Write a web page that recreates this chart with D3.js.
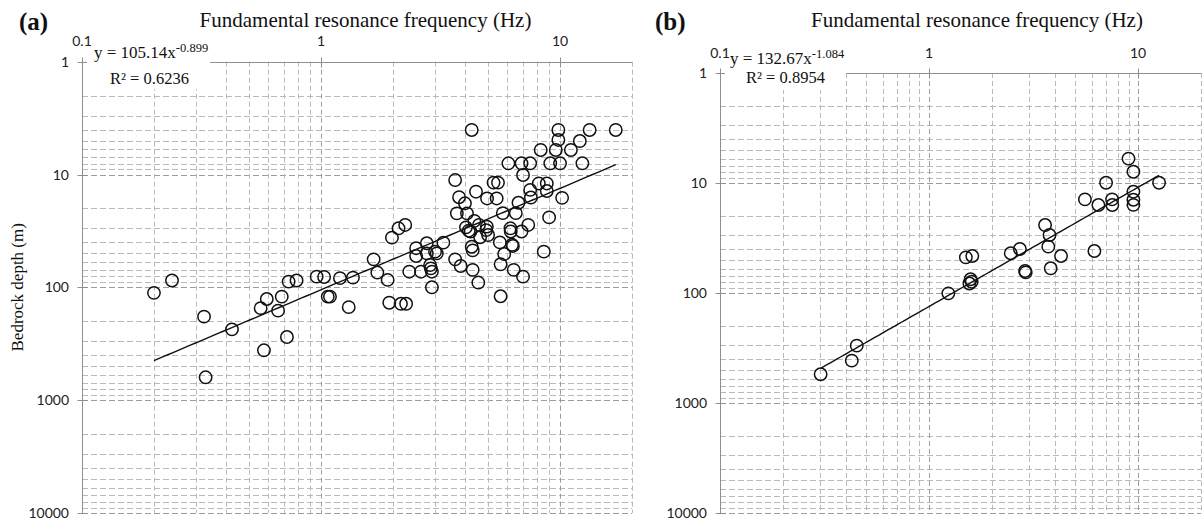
<!DOCTYPE html>
<html>
<head>
<meta charset="utf-8">
<script src="https://cdn.jsdelivr.net/npm/d3@7"></script>
<style>
  body { margin: 0; background: #fff; }
  svg { display: block; }
</style>
</head>
<body>
<svg id="chart" width="1204" height="523"></svg>
<script>
// Panel (a): all sites — fundamental resonance frequency (Hz) vs bedrock depth (m)
const freqA = [
  0.20, 0.238, 0.324, 0.329, 0.424, 0.577, 0.559, 0.593, 0.685, 0.661,
  0.72, 0.732, 0.79, 0.959, 1.03, 1.067, 1.09, 1.20, 1.36, 1.306,
  1.66, 1.72, 1.90, 1.93, 2.16, 2.27, 1.98, 2.11, 2.25, 2.34,
  2.62, 2.50, 2.50, 2.77, 2.77, 3.00, 3.05, 3.25, 2.86, 2.88,
  2.91, 2.91, 3.64, 3.78, 4.00, 4.45, 3.70, 4.08, 4.38, 4.04,
  4.15, 4.22, 4.58, 4.94, 4.91, 5.00, 4.63, 3.64, 3.84, 4.27,
  4.31, 4.31, 4.55, 4.27, 9.84, 13.3, 17.1, 9.84, 12.1, 8.3,
  9.6, 11.1, 6.08, 6.9, 7.5, 9.1, 10.0, 12.4, 7.0, 5.27,
  5.5, 8.15, 8.8, 8.8, 7.5, 7.55, 10.2, 4.95, 5.43, 6.7,
  5.76, 6.53, 9.0, 7.36, 6.2, 6.22, 6.9, 5.6, 6.3, 6.35,
  5.84, 5.64, 6.4, 7.0, 8.55, 5.64
];
const depthA = [
  112, 87, 182, 628, 236, 362, 153, 127, 121, 161,
  276, 89, 87, 80.5, 81, 121, 121, 83, 82, 150,
  56.5, 74, 86, 137, 140, 140, 36.3, 30, 28, 72.7,
  72.7, 45, 52.8, 40.7, 50, 48.3, 50, 40.2, 63.5, 67.9,
  72.7, 100, 11.2, 15.9, 18, 14.2, 22.1, 22.1, 25.8, 29.4,
  31.5, 32.1, 28, 29, 31.1, 34.4, 36, 56.5, 64.7, 43.7,
  47.1, 70, 90.8, 4.03, 4.03, 4.03, 4.03, 4.94, 5.05, 6.06,
  6.06, 6.06, 7.96, 7.96, 7.96, 7.96, 7.96, 7.96, 10.1, 11.8,
  11.8, 12, 12, 14, 13.7, 16, 16.1, 16.3, 16.3, 17.8,
  22, 22, 24, 28, 30, 32, 32, 40, 42, 43,
  50.7, 62.5, 70, 80.5, 48.3, 120
];

// Panel (b): subset of sites
const freqB = [
  0.303, 0.427, 0.451, 1.237, 1.56, 1.58, 1.60, 1.50, 1.61, 2.46,
  2.72, 2.88, 2.90, 3.59, 3.77, 3.72, 4.28, 3.82, 5.57, 6.46,
  7.03, 7.51, 7.53, 6.18, 9.0, 9.5, 9.5, 9.5, 9.5, 12.6
];
const depthB = [
  548, 412, 301, 100.7, 82, 75, 79, 47.4, 46.1, 43.5,
  39.8, 63, 65, 24.1, 29.7, 37.9, 46.1, 59.6, 14.1, 15.85,
  9.94, 14.1, 15.85, 41.5, 6.0, 7.9, 12.0, 14.2, 15.8, 9.94
];

// Power-law trendlines y = c * x^k
const fitA = { coef: 105.14, expo: -0.899, coefText: "105.14", expoText: "-0.899", r2Text: "0.6236" };
const fitB = { coef: 132.67, expo: -1.084, coefText: "132.67", expoText: "-1.084", r2Text: "0.8954" };

// Axis settings
const xDomain = [0.1, 20];
const yDomain = [1, 10000];
const xTickLabels = [0.1, 1, 10];
const yTickLabels = [1, 10, 100, 1000, 10000];
const xTitle = "Fundamental resonance frequency (Hz)";
const yTitle = "Bedrock depth (m)";

const svg = d3.select("#chart");

const panels = [
  {
    letter: "(a)", letterX: 19, freq: freqA, depth: depthA, fit: fitA,
    left: 82, right: 632, top: 61.7, bottom: 512.9,
    titleX: 365.5, eqX: 94, eqY1: 58, eqY2: 84, r2X: 110, boxRight: 210, boxBottom: 89,
    showYTitle: true
  },
  {
    letter: "(b)", letterX: 655, freq: freqB, depth: depthB, fit: fitB,
    left: 720, right: 1201, top: 73, bottom: 513,
    titleX: 977, eqX: 730, eqY1: 63.5, eqY2: 82.5, r2X: 746, boxRight: 846, boxBottom: 90,
    showYTitle: false
  }
];

const gridMinor = "#bababa";
const gridMajor = "#9c9c9c";
const axisColor = "#8f8f8f";
const sansFont = "Lato, 'Open Sans', sans-serif";
const serifFont = "'Liberation Serif', 'DejaVu Serif', serif";

panels.forEach(p => {
  const x = d3.scaleLog().domain(xDomain).range([p.left, p.right]);
  const y = d3.scaleLog().domain(yDomain).range([p.top, p.bottom]);
  const g = svg.append("g");

  const isMajor = v => Math.abs(Math.log10(v) - Math.round(Math.log10(v))) < 1e-9;

  // horizontal gridlines (every 1–9 × decade)
  g.append("g").selectAll("line")
    .data(y.ticks().filter(v => v > yDomain[0]))
    .join("line")
    .attr("x1", p.left).attr("x2", p.right)
    .attr("y1", d => Math.round(y(d)) + 0.5).attr("y2", d => Math.round(y(d)) + 0.5)
    .attr("stroke", d => isMajor(d) ? gridMajor : gridMinor)
    .attr("stroke-width", 1)
    .attr("stroke-dasharray", "6,3");

  // vertical gridlines
  g.append("g").selectAll("line")
    .data(x.ticks().filter(v => v > xDomain[0]))
    .join("line")
    .attr("x1", d => Math.round(x(d)) + 0.5).attr("x2", d => Math.round(x(d)) + 0.5)
    .attr("y1", p.top).attr("y2", p.bottom)
    .attr("stroke", d => isMajor(d) ? gridMajor : gridMinor)
    .attr("stroke-width", 1)
    .attr("stroke-dasharray", "5,3");

  // left axis (solid) with major ticks crossing it
  const xl = Math.round(p.left) + 0.5;
  g.append("line")
    .attr("x1", xl).attr("x2", xl).attr("y1", p.top).attr("y2", p.bottom)
    .attr("stroke", axisColor);
  g.append("g").selectAll("line")
    .data(yTickLabels)
    .join("line")
    .attr("x1", xl - 5).attr("x2", xl + 5)
    .attr("y1", d => Math.round(y(d)) + 0.5).attr("y2", d => Math.round(y(d)) + 0.5)
    .attr("stroke", axisColor);

  // top axis (solid) with major ticks
  const yt = Math.round(p.top) + 0.5;
  g.append("line")
    .attr("x1", p.left).attr("x2", p.right).attr("y1", yt).attr("y2", yt)
    .attr("stroke", axisColor);
  g.append("g").selectAll("line")
    .data(xTickLabels)
    .join("line")
    .attr("x1", d => Math.round(x(d)) + 0.5).attr("x2", d => Math.round(x(d)) + 0.5)
    .attr("y1", yt - 5).attr("y2", yt + 5)
    .attr("stroke", axisColor);

  // equation label background
  g.append("rect")
    .attr("x", p.left + 5).attr("y", p.top - 4)
    .attr("width", p.boxRight - p.left - 5).attr("height", p.boxBottom - p.top + 4)
    .attr("fill", "#fff");

  // tick labels
  g.append("g").selectAll("text")
    .data(xTickLabels)
    .join("text")
    .attr("x", d => x(d)).attr("y", p.top - 15.5)
    .attr("text-anchor", "middle")
    .attr("font-family", sansFont).attr("font-size", 14).attr("fill", "#222")
    .text(d => d3.format("~g")(d));
  g.append("g").selectAll("text")
    .data(yTickLabels)
    .join("text")
    .attr("x", p.left - 13).attr("y", d => y(d) + 5)
    .attr("text-anchor", "end")
    .attr("font-family", sansFont).attr("font-size", 14).attr("fill", "#222")
    .text(d => String(d));

  // titles
  g.append("text")
    .attr("x", p.titleX).attr("y", 26.5)
    .attr("text-anchor", "middle")
    .attr("font-family", serifFont).attr("font-size", 21).attr("fill", "#111")
    .text(xTitle);
  g.append("text")
    .attr("x", p.letterX).attr("y", 30)
    .attr("font-family", serifFont).attr("font-size", 25).attr("font-weight", "bold").attr("fill", "#111")
    .text(p.letter);
  if (p.showYTitle) {
    g.append("text")
      .attr("transform", `translate(23,${(p.top + p.bottom) / 2}) rotate(-90)`)
      .attr("text-anchor", "middle")
      .attr("font-family", serifFont).attr("font-size", 17).attr("fill", "#111")
      .text(yTitle);
  }

  // trendline equation
  const eq = g.append("text")
    .attr("x", p.eqX).attr("y", p.eqY1)
    .attr("font-family", serifFont).attr("font-size", 17).attr("fill", "#111");
  eq.append("tspan").text(`y = ${p.fit.coefText}x`);
  eq.append("tspan").attr("dy", -6).attr("font-size", 12.5).text(p.fit.expoText);
  g.append("text")
    .attr("x", p.r2X).attr("y", p.eqY2)
    .attr("font-family", serifFont).attr("font-size", 16.5).attr("fill", "#111")
    .text(`R\u00B2 = ${p.fit.r2Text}`);

  // power-law trendline over the data range
  const [fMin, fMax] = d3.extent(p.freq);
  const fitPts = d3.range(0, 101).map(i => fMin * Math.pow(fMax / fMin, i / 100));
  g.append("path")
    .datum(fitPts)
    .attr("fill", "none").attr("stroke", "#111").attr("stroke-width", 1.4)
    .attr("d", d3.line().x(f => x(f)).y(f => y(p.fit.coef * Math.pow(f, p.fit.expo))));

  // data points as open circles
  g.append("g").selectAll("circle")
    .data(p.freq.map((f, i) => [f, p.depth[i]]))
    .join("circle")
    .attr("cx", d => x(d[0])).attr("cy", d => y(d[1]))
    .attr("r", 6.2)
    .attr("fill", "none").attr("stroke", "#111").attr("stroke-width", 1.5);
});
</script>
</body>
</html>
